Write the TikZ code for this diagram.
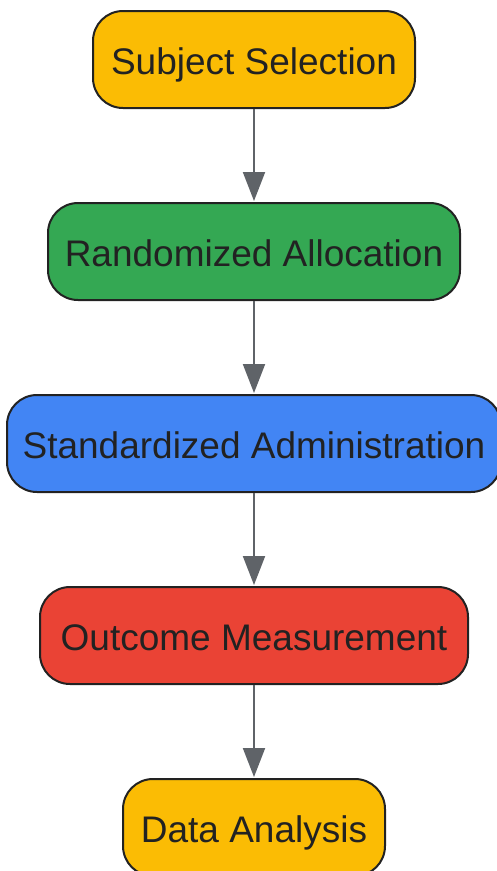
\documentclass[tikz,border=0pt]{standalone}
\usepackage{fontspec}
\setmainfont{Liberation Sans}
\usetikzlibrary{arrows.meta}
\definecolor{gyellow}{HTML}{FBBC04}
\definecolor{ggreen}{HTML}{34A853}
\definecolor{gblue}{HTML}{4285F4}
\definecolor{gred}{HTML}{EA4335}
\definecolor{edgegray}{HTML}{5F6368}
\definecolor{txt}{HTML}{222222}
\tikzset{
  stepbox/.style={draw=txt, line width=2pt, rounded corners=30pt, minimum height=97pt,
    inner sep=0pt, text=txt, font=\fontsize{37}{42}\selectfont,
    text height=29.4pt, text depth=0pt},
  flowarrow/.style={draw=edgegray, line width=2pt, -{Triangle[width=22pt,length=29pt]}, shorten >=1pt}
}
\begin{document}
\begin{tikzpicture}[x=1pt,y=1pt]
\useasboundingbox (0,0) rectangle (497,-871);
\node[stepbox, fill=gyellow, minimum width=322pt] (n1) at (254,-59.5) {Subject Selection};
\node[stepbox, fill=ggreen, minimum width=412pt] (n2) at (254,-251.5) {Randomized Allocation};
\node[stepbox, fill=gblue, minimum width=494pt] (n3) at (254,-443.5) {Standardized Administration};
\node[stepbox, fill=gred, minimum width=428pt] (n4) at (254,-635.5) {Outcome Measurement};
\node[stepbox, fill=gyellow, minimum width=262pt] (n5) at (254,-827.5) {Data Analysis};
\draw[flowarrow] (n1) -- (n2);
\draw[flowarrow] (n2) -- (n3);
\draw[flowarrow] (n3) -- (n4);
\draw[flowarrow] (n4) -- (n5);
\end{tikzpicture}
\end{document}
